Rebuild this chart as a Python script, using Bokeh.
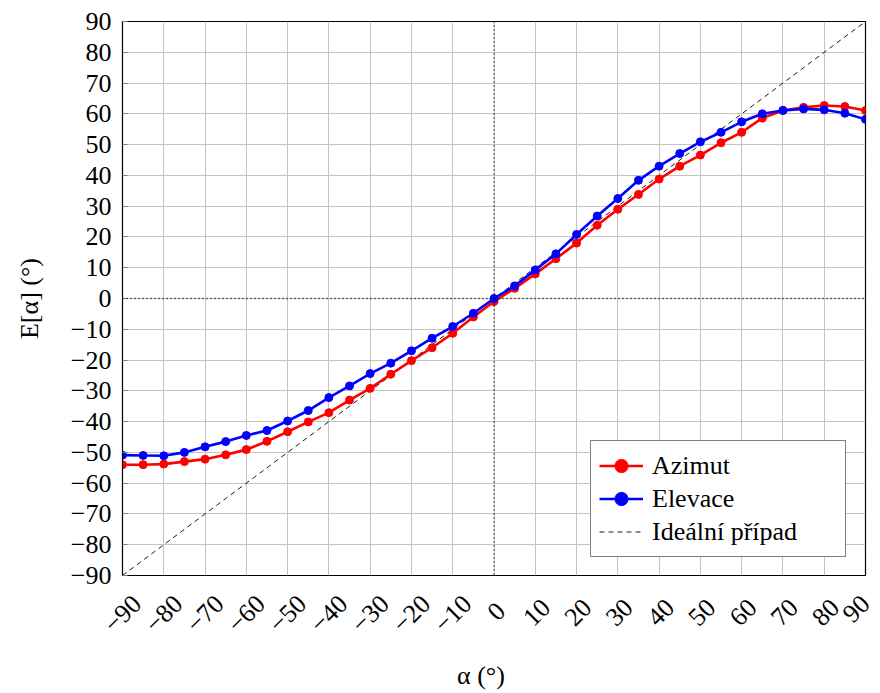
from math import pi
from bokeh.plotting import figure
from bokeh.models import (Range1d, Span, Legend, LegendItem, FixedTicker,
                          LinearAxis, Grid)
from bokeh.embed import file_html
from bokeh.resources import INLINE

alpha = list(range(-90, 91, 5))
azimut = [-54.0, -54.0, -53.8, -53.0, -52.2, -50.8, -49.1, -46.4, -43.3, -40.1,
          -37.1, -33.0, -29.2, -24.6, -20.2, -16.0, -11.3, -6.0, -1.0, 3.3,
          8.0, 12.9, 18.0, 23.8, 29.0, 33.8, 38.8, 43.0, 46.6, 50.6,
          54.0, 58.6, 61.1, 62.1, 62.7, 62.4, 61.1]
elevace = [-50.9, -51.0, -51.1, -50.0, -48.2, -46.5, -44.5, -42.9, -39.8, -36.4,
           -32.2, -28.4, -24.4, -21.0, -17.0, -12.9, -9.1, -4.8, 0.0, 4.1,
           9.3, 14.5, 20.8, 26.8, 32.5, 38.4, 43.0, 47.1, 50.9, 54.0,
           57.4, 60.0, 61.1, 61.6, 61.3, 60.2, 58.2]
ideal_x = [-90, 90]
ideal_y = [-90, 90]
ticks = list(range(-90, 91, 10))
tick_labels = {t: (f"\u2212{abs(t)}" if t < 0 else str(t)) for t in ticks}
axis_min, axis_max = -90, 90

FONT = "Liberation Serif"
FS = "26px"
FRAME_W, FRAME_H = 743, 554

p = figure(output_backend="svg", toolbar_location=None,
           frame_width=FRAME_W, frame_height=FRAME_H, x_axis_location=None,
           min_border_left=122, min_border_right=15, min_border_top=21, min_border_bottom=100,
           x_range=Range1d(axis_min, axis_max), y_range=Range1d(axis_min, axis_max))
p.background_fill_color = "white"
p.border_fill_color = "white"
p.outline_line_color = "black"
p.outline_line_alpha = 1.0
p.outline_line_width = 1.2

# y axis
ya = p.yaxis[0]
ya.ticker = FixedTicker(ticks=ticks)
ya.major_label_overrides = tick_labels
ya.major_label_text_font = FONT
ya.major_label_text_font_size = FS
ya.major_label_text_color = "black"
ya.axis_label = "E[\u03b1] (\u00b0)"
ya.axis_label_text_font = FONT
ya.axis_label_text_font_size = FS
ya.axis_label_text_font_style = "normal"
ya.axis_label_text_color = "black"
ya.axis_line_color = "black"
ya.major_tick_in = 5
ya.major_tick_out = 0
ya.major_tick_line_color = "#808080"
ya.minor_tick_line_color = None
ya.major_label_standoff = 11
ya.axis_label_standoff = 24

# x axis: rotated labels, shifted so that each label's box is centred under its tick
shift_px = 14.4
shift = shift_px * (axis_max - axis_min) / FRAME_W
eps = 0.002
lab_end = axis_max - shift
p.extra_x_ranges = {"lab": Range1d(axis_min - shift - eps, lab_end + eps)}
pad = {3: "", 2: "\u2009", 1: "\u2009\u2009"}
lab_pos = []
x_overrides = {}
for t in ticks:
    s = tick_labels[t]
    pos = t if t <= lab_end else lab_end
    lab_pos.append(pos)
    x_overrides[pos] = s + (pad[len(s)] if t <= lab_end else "")
xa = LinearAxis(x_range_name="lab", ticker=FixedTicker(ticks=lab_pos))
xa.major_label_overrides = x_overrides
xa.major_label_orientation = pi / 4
xa.major_label_text_font = FONT
xa.major_label_text_font_size = FS
xa.major_label_text_color = "black"
xa.major_label_standoff = 18
xa.axis_label = "\u03b1 (\u00b0)" + "\u00a0" * 4
xa.axis_label_text_font = FONT
xa.axis_label_text_font_size = FS
xa.axis_label_text_font_style = "normal"
xa.axis_label_text_color = "black"
xa.axis_label_standoff = 9
xa.axis_line_color = None
xa.major_tick_line_color = None
xa.minor_tick_line_color = None
p.add_layout(xa, "below")

if len(p.xgrid) == 0:
    p.add_layout(Grid(dimension=0, ticker=FixedTicker(ticks=ticks)))
p.xgrid.ticker = FixedTicker(ticks=ticks)
p.ygrid.ticker = FixedTicker(ticks=ticks)
for g in (p.xgrid, p.ygrid):
    g.grid_line_color = "#c4c4c4"
    g.grid_line_width = 1

p.add_layout(Span(location=0, dimension="width", line_color="black",
                  line_dash="1 3", line_width=1.4))
p.add_layout(Span(location=0, dimension="height", line_color="black",
                  line_dash="1 3", line_width=1.4))

r_ideal = p.line(ideal_x, ideal_y, line_color="black", line_width=0.9, line_dash="5 4")
r_az_l = p.line(alpha, azimut, line_color="#ff0000", line_width=2.6)
r_az_m = p.scatter(alpha, azimut, marker="circle", size=8, fill_color="#ff0000", line_color="#ff0000")
r_el_l = p.line(alpha, elevace, line_color="#0000ff", line_width=2.6)
r_el_m = p.scatter(alpha, elevace, marker="circle", size=8, fill_color="#0000ff", line_color="#0000ff")

legend = Legend(items=[
    LegendItem(label="Azimut", renderers=[r_az_l, r_az_m]),
    LegendItem(label="Elevace", renderers=[r_el_l, r_el_m]),
    LegendItem(label="Ideální případ", renderers=[r_ideal]),
], location=(468, 18))
legend.label_text_font = FONT
legend.label_text_font_size = FS
legend.label_text_color = "black"
legend.glyph_width = 44
legend.glyph_height = 33
legend.label_height = 33
legend.label_width = 185
legend.label_standoff = 9
legend.padding = 8
legend.spacing = 0
legend.margin = 0
legend.border_line_color = "black"
legend.border_line_width = 1.2
legend.background_fill_alpha = 1.0
p.add_layout(legend)

open("out.html", "w").write(file_html(p, INLINE))
